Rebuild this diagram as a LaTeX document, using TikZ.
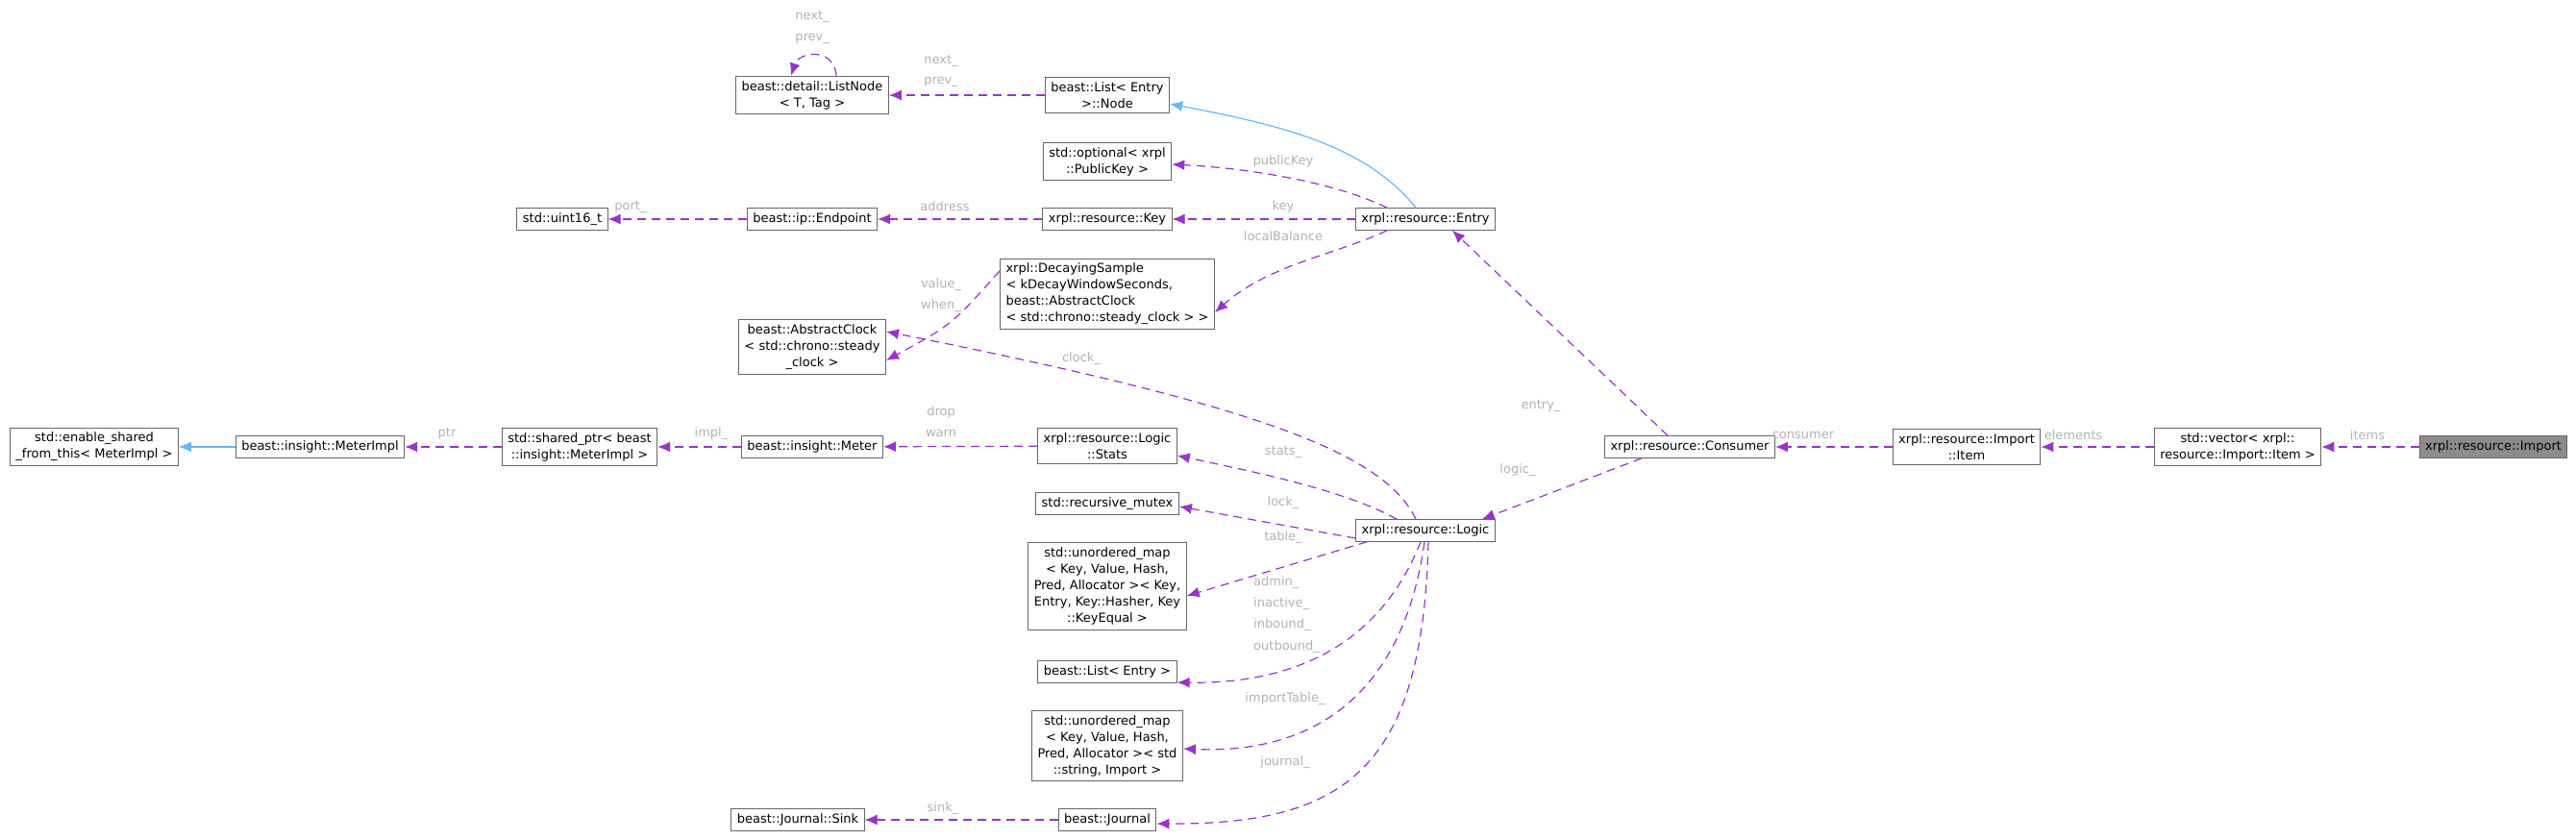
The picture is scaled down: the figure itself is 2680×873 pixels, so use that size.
\documentclass[tikz,border=0pt]{standalone}
\usepackage{fontspec}
\setmainfont{DejaVu Sans}
\usetikzlibrary{arrows.meta}
\begin{document}
\begin{tikzpicture}[x=1pt,y=-1pt,
 box/.style={draw=black!60,line width=1pt,fill=white,inner xsep=6pt,inner ysep=5pt,font=\fontsize{13}{17}\selectfont,align=center},
 lbox/.style={box,align=left},
 dep/.style={draw={rgb,255:red,154;green,50;blue,205},dash pattern=on 9pt off 6pt,line width=1.2pt,-{Latex[length=13pt,width=11pt]}},
 inh/.style={draw={rgb,255:red,99;green,184;blue,255},line width=1.2pt,-{Latex[length=13pt,width=11pt]}},
 lab/.style={text=black!30,font=\fontsize{13}{15}\selectfont,inner sep=1pt}]
\useasboundingbox (0,0) rectangle (2680,873);
\node[box] (listnode) at (845,99) {beast::detail::ListNode\\< T, Tag >};
\node[box] (uint) at (585,228) {std::uint16\_t};
\node[box] (endp) at (845,228) {beast::ip::Endpoint};
\node[box] (clock) at (845,361) {beast::AbstractClock\\< std::chrono::steady\\\_clock >};
\node[box] (esft) at (98,465) {std::enable\_shared\\\_from\_this< MeterImpl >};
\node[box] (mimpl) at (333,465) {beast::insight::MeterImpl};
\node[box] (sptr) at (603,465) {std::shared\_ptr< beast\\::insight::MeterImpl >};
\node[box] (meter) at (845,465) {beast::insight::Meter};
\node[box] (stats) at (1152,464) {xrpl::resource::Logic\\::Stats};
\node[box] (mutex) at (1152,524) {std::recursive\_mutex};
\node[box] (umap1) at (1152,610) {std::unordered\_map\\< Key, Value, Hash,\\ Pred, Allocator >< Key,\\Entry, Key::Hasher, Key\\::KeyEqual >};
\node[box] (lentry) at (1152,699) {beast::List< Entry >};
\node[box] (umap2) at (1152,776) {std::unordered\_map\\< Key, Value, Hash,\\ Pred, Allocator >< std\\::string, Import >};
\node[box] (journal) at (1152,853) {beast::Journal};
\node[box] (sink) at (830,853) {beast::Journal::Sink};
\node[box] (logic) at (1483,552) {xrpl::resource::Logic};
\node[box] (lnode) at (1152,99) {beast::List< Entry\\>::Node};
\node[box] (opt) at (1152,168) {std::optional< xrpl\\::PublicKey >};
\node[box] (key) at (1152,228) {xrpl::resource::Key};
\node[lbox] (decay) at (1152,306) {xrpl::DecayingSample\\< kDecayWindowSeconds,\\ beast::AbstractClock\\< std::chrono::steady\_clock > >};
\node[box] (entry) at (1483,228) {xrpl::resource::Entry};
\node[box] (consumer) at (1758,465) {xrpl::resource::Consumer};
\node[box] (item) at (2046,465) {xrpl::resource::Import\\::Item};
\node[box] (vec) at (2328,465) {std::vector< xrpl::\\resource::Import::Item >};
\node[box,fill=black!45] (import) at (2594,465) {xrpl::resource::Import};
% self loop
\coordinate (la) at ([xshift=25pt]listnode.north);
\coordinate (lb) at ([xshift=-22pt]listnode.north);
\draw[dep] (la) .. controls +(-2,-30) and +(8,-25) .. (lb);
\node[lab] at (845,17) {next\_};
\node[lab] at (845,40) {prev\_};
\draw[dep] (lnode) -- (listnode);
\node[lab] at (979,63) {next\_};
\node[lab] at (979,85) {prev\_};
\coordinate (eT) at ([xshift=-10pt]entry.north);
\draw[inh] (eT) .. controls (1420,150) and (1330,130) .. ([yshift=-9pt]lnode.east);
\coordinate (eT2) at ([xshift=-40pt]entry.north);
\draw[dep] (eT2) .. controls (1390,190) and (1300,175) .. ([yshift=-3pt]opt.east);
\node[lab] at (1335,168) {publicKey};
\draw[dep] (entry) -- (key);
\node[lab] at (1335,215) {key};
\coordinate (eB) at ([xshift=-40pt]entry.south);
\draw[dep] (eB) .. controls (1390,265) and (1320,275) .. ([yshift=-19pt]decay.east);
\node[lab] at (1335,246) {localBalance};
\draw[dep] (key) -- (endp);
\node[lab] at (983,215) {address};
\draw[dep] (endp) -- (uint);
\node[lab] at (656,215) {port\_};
\draw[dep] ([yshift=24pt]decay.west) .. controls (990,338) .. ([yshift=-14pt]clock.east);
\node[lab] at (979,296) {value\_};
\node[lab] at (979,318) {when\_};
\coordinate (lT1) at ([xshift=-10pt]logic.north);
\draw[dep] (lT1) .. controls (1440,470) and (1300,420) .. ([yshift=16pt]clock.east);
\node[lab] at (1125,373) {clock\_};
\coordinate (cT) at ([xshift=-23pt]consumer.north);
\draw[dep] (cT) -- ([xshift=28pt]entry.south);
\node[lab] at (1603,422) {entry\_};
\coordinate (lT2) at ([xshift=-30pt]logic.north);
\draw[dep] (lT2) .. controls (1400,510) and (1300,490) .. ([yshift=-10pt]stats.east);
\node[lab] at (1335,470) {stats\_};
\draw[dep] ([yshift=-8pt]logic.west) -- ([yshift=-3pt]mutex.east);
\node[lab] at (1335,523) {lock\_};
\draw[dep] ([xshift=12pt]logic.south west) -- ([yshift=-10pt]umap1.east);
\node[lab] at (1335,559) {table\_};
\coordinate (lB1) at ([xshift=-5pt]logic.south);
\coordinate (lB2) at ([xshift=-1pt]logic.south);
\coordinate (lB3) at ([xshift=3pt]logic.south);
\draw[dep] (lB1) .. controls (1440,660) and (1360,712) .. ([yshift=-11pt]lentry.east);
\node[lab,anchor=west] at (1303,606) {admin\_};
\node[lab,anchor=west] at (1303,628) {inactive\_};
\node[lab,anchor=west] at (1303,650) {inbound\_};
\node[lab,anchor=west] at (1303,673) {outbound\_};
\draw[dep] (lB2) .. controls (1460,720) and (1370,785) .. ([yshift=-3pt]umap2.east);
\node[lab] at (1337,727) {importTable\_};
\draw[dep] (lB3) .. controls (1480,800) and (1400,858) .. ([yshift=-4pt]journal.east);
\node[lab] at (1337,793) {journal\_};
\draw[dep] (journal) -- (sink);
\node[lab] at (981,841) {sink\_};
\draw[dep] (stats) -- (meter);
\node[lab] at (979,429) {drop};
\node[lab] at (979,451) {warn};
\draw[dep] (meter) -- (sptr);
\node[lab] at (740,451) {impl\_};
\draw[dep] (sptr) -- (mimpl);
\node[lab] at (465,451) {ptr};
\draw[inh] (mimpl) -- (esft);
\coordinate (cB) at ([xshift=-50pt]consumer.south);
\draw[dep] (cB) -- ([xshift=-14pt]logic.north east);
\node[lab] at (1579,489) {logic\_};
\draw[dep] (item) -- (consumer);
\node[lab] at (1876,453) {consumer};
\draw[dep] (vec) -- (item);
\node[lab] at (2157,453) {elements};
\draw[dep] (import) -- (vec);
\node[lab] at (2463,453) {items};
\end{tikzpicture}
\end{document}
